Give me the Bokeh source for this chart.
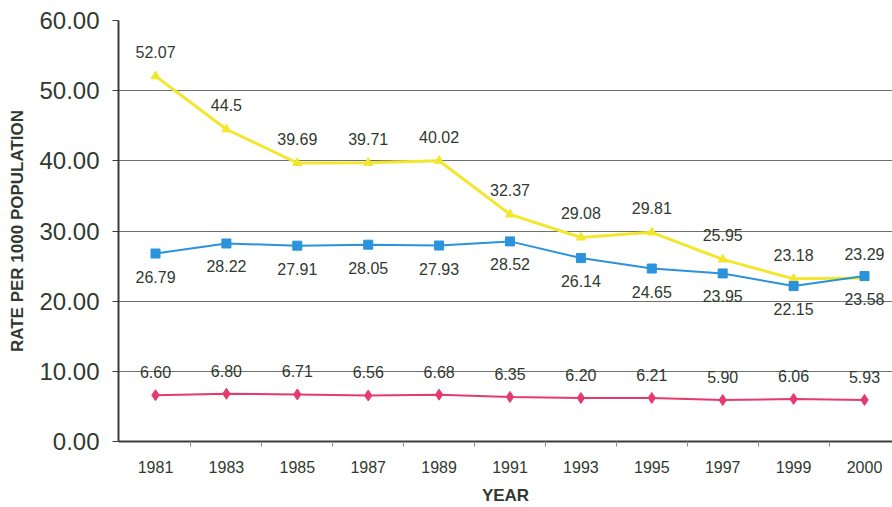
from bokeh.plotting import figure
from bokeh.models import Range1d, FixedTicker, ColumnDataSource
from bokeh.core.properties import value
from bokeh.embed import file_html
from bokeh.resources import INLINE

years = ["1981", "1983", "1985", "1987", "1989", "1991", "1993", "1995", "1997", "1999", "2000"]
yellow_vals = [52.07, 44.5, 39.69, 39.71, 40.02, 32.37, 29.08, 29.81, 25.95, 23.18, 23.29]
yellow_labels = ["52.07", "44.5", "39.69", "39.71", "40.02", "32.37", "29.08", "29.81", "25.95", "23.18", "23.29"]
blue_vals = [26.79, 28.22, 27.91, 28.05, 27.93, 28.52, 26.14, 24.65, 23.95, 22.15, 23.58]
blue_labels = ["26.79", "28.22", "27.91", "28.05", "27.93", "28.52", "26.14", "24.65", "23.95", "22.15", "23.58"]
pink_vals = [6.60, 6.80, 6.71, 6.56, 6.68, 6.35, 6.20, 6.21, 5.90, 6.06, 5.93]
pink_labels = ["6.60", "6.80", "6.71", "6.56", "6.68", "6.35", "6.20", "6.21", "5.90", "6.06", "5.93"]
y_ticks = [0, 10, 20, 30, 40, 50, 60]

xs = list(range(len(years)))
FONT = value("Liberation Sans")
TXT = "#2f3a30"

p = figure(width=892, height=507, output_backend="svg", toolbar_location=None,
           x_range=Range1d(-0.522, 10.395), y_range=Range1d(0, 60),
           min_border_left=118, min_border_right=0, min_border_top=20, min_border_bottom=64)
p.outline_line_color = None
p.background_fill_color = "white"
p.border_fill_color = "white"

# x axis
p.xaxis.ticker = FixedTicker(ticks=xs, minor_ticks=[i + 0.5 for i in xs[:-1]])
p.xaxis.major_label_overrides = {i: y for i, y in enumerate(years)}
p.xaxis.major_tick_line_color = None
p.xaxis.major_tick_out = 0
p.xaxis.major_tick_in = 0
p.xaxis.minor_tick_line_color = "#888888"
p.xaxis.minor_tick_out = 5
p.xaxis.minor_tick_in = 0
p.xaxis.major_label_text_font = "Liberation Sans"
p.xaxis.major_label_text_font_size = "16px"
p.xaxis.major_label_text_color = TXT
p.xaxis.major_label_standoff = 14
p.xaxis.axis_label = "YEAR"
p.xaxis.axis_label_text_font = "Liberation Sans"
p.xaxis.axis_label_text_font_style = "bold"
p.xaxis.axis_label_text_font_size = "17px"
p.xaxis.axis_label_text_color = TXT
p.xaxis.axis_label_standoff = 10
p.xaxis.axis_line_color = "#3a3f3a"
p.xaxis.axis_line_width = 2
p.xgrid.grid_line_color = None

# y axis
p.yaxis.ticker = FixedTicker(ticks=y_ticks)
p.yaxis.major_label_overrides = {t: "%.2f" % t for t in y_ticks}
p.yaxis.major_tick_out = 6
p.yaxis.major_tick_in = 0
p.yaxis.major_tick_line_color = "#3a3f3a"
p.yaxis.minor_tick_line_color = None
p.yaxis.major_label_text_font = "Liberation Sans"
p.yaxis.major_label_text_font_size = "24px"
p.yaxis.major_label_text_color = TXT
p.yaxis.major_label_standoff = 13
p.yaxis.axis_label = "RATE PER 1000 POPULATION"
p.yaxis.axis_label_text_font = "Liberation Sans"
p.yaxis.axis_label_text_font_style = "bold"
p.yaxis.axis_label_text_font_size = "17px"
p.yaxis.axis_label_text_color = TXT
p.yaxis.axis_label_standoff = 9
p.yaxis.axis_line_color = "#3a3f3a"
p.yaxis.axis_line_width = 2
p.ygrid.grid_line_color = "#707070"
p.ygrid.grid_line_width = 1

ysrc = ColumnDataSource(dict(x=xs, y=yellow_vals, t=yellow_labels))
bsrc = ColumnDataSource(dict(x=xs, y=blue_vals, t=blue_labels))
psrc = ColumnDataSource(dict(x=xs, y=pink_vals, t=pink_labels))

YEL = "#f2e72c"
BLU = "#2a93dc"
PNK = "#e63a6e"

p.line("x", "y", source=ysrc, line_color=YEL, line_width=3)
p.scatter("x", "y", source=ysrc, marker="triangle", size=9, fill_color=YEL, line_color=YEL)
p.line("x", "y", source=bsrc, line_color=BLU, line_width=2)
p.scatter("x", "y", source=bsrc, marker="square", size=9, fill_color=BLU, line_color=BLU)
p.line("x", "y", source=psrc, line_color=PNK, line_width=2)
p.scatter("x", "y", source=psrc, marker="diamond", size=11, fill_color=PNK, line_color=PNK)

for src, off in ((ysrc, -24), (bsrc, 23), (psrc, -23)):
    p.text("x", "y", text="t", source=src, y_offset=off, text_align="center",
           text_baseline="middle", text_font=FONT, text_font_size="16px", text_color=TXT)

open("out.html", "w").write(file_html(p, INLINE))
